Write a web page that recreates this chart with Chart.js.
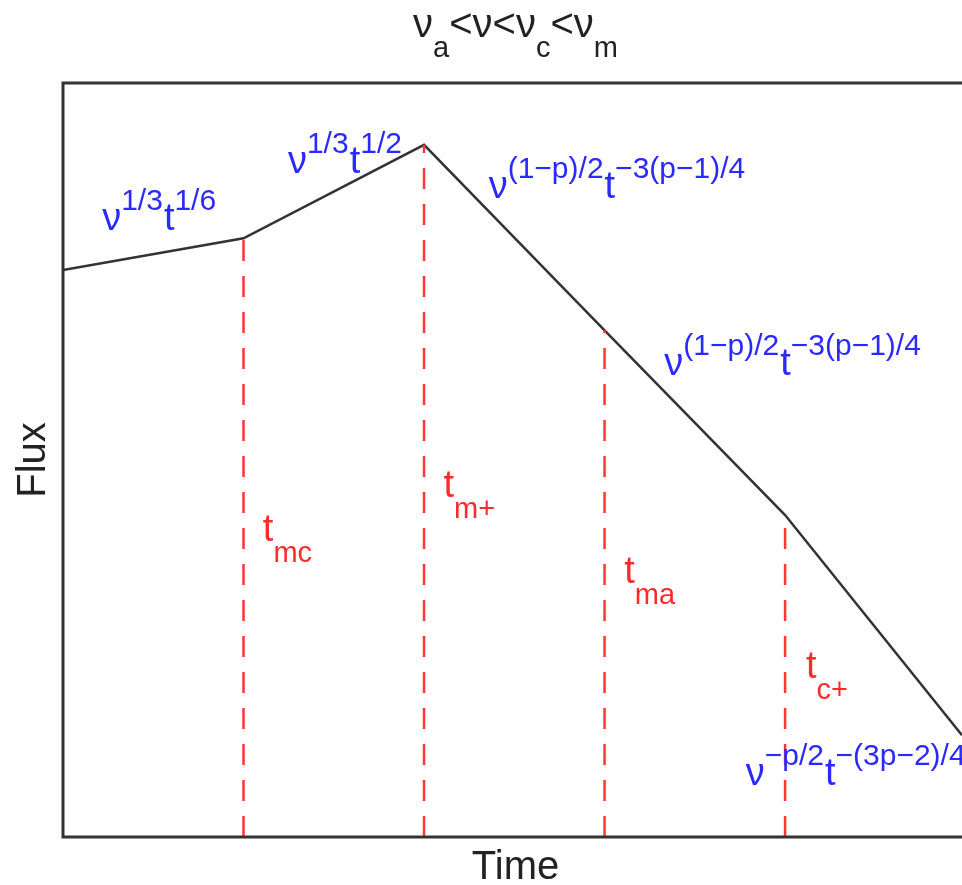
<!DOCTYPE html>
<html>
<head>
<meta charset="utf-8">
<script src="https://cdn.jsdelivr.net/npm/chart.js@4"></script>
<style>
  html, body { margin: 0; padding: 0; background: #fff; }
  #wrap { width: 962px; height: 885px; }
</style>
</head>
<body>
<div id="wrap"><canvas id="chart" width="962" height="885"></canvas></div>
<script>
// broken power-law light curve (arbitrary log units)
const timePoints = [0, 1, 2, 3, 4, 4.98];
const fluxPoints = [7.52, 7.94, 9.18, 6.72, 4.27, 1.35];

// break times (index into the curve above) and their names
const breakIndex = [1, 2, 3, 4];
const breakNames = ["mc", "m+", "ma", "c+"];

// segment slopes, written as [nu exponent, t exponent]
const slopeLabels = [
    ["1/3", "1/6"],
    ["1/3", "1/2"],
    ["(1\u2212p)/2", "\u22123(p\u22121)/4"],
    ["(1\u2212p)/2", "\u22123(p\u22121)/4"],
    ["\u2212p/2", "\u2212(3p\u22122)/4"],
];
// where each slope label sits (data coords of its baseline start)
const slopeLabelAt = [[0.217, 8.05], [1.246, 8.81], [2.358, 8.47], [3.331, 6.13], [3.782, 0.69]];
const breakLabelAt = [[1.107, 3.93], [2.108, 4.51], [3.109, 3.37], [4.116, 2.11]];

const FONT = "'Liberation Sans', Arial, Helvetica, sans-serif";
const BLUE = "#2a2aff";
const RED = "#ff2a2a";

function drawRich(ctx, segs, x, y, opts) {
    for (const [text, kind] of segs) {
        const size = kind === "base" ? opts.base : opts.small;
        const dy = kind === "sup" ? -opts.shift : kind === "sub" ? opts.shift : 0;
        ctx.font = `${size}px ${FONT}`;
        ctx.fillText(text, x, y + dy);
        x += ctx.measureText(text).width + (kind === "base" ? 0 : (opts.gap || 0));
    }
    return x;
}

function richWidth(ctx, segs, opts) {
    let w = 0;
    for (const [text, kind] of segs) {
        ctx.font = `${kind === "base" ? opts.base : opts.small}px ${FONT}`;
        w += ctx.measureText(text).width;
    }
    return w;
}

const decorations = {
    id: "decorations",
    afterDatasetsDraw(chart) {
        const { ctx, chartArea: a, scales } = chart;
        const sx = scales.x, sy = scales.y;
        ctx.save();
        ctx.textAlign = "left";
        ctx.textBaseline = "alphabetic";

        // plot frame (right edge runs off the page)
        ctx.strokeStyle = "#333";
        ctx.lineWidth = 3;
        ctx.beginPath();
        ctx.moveTo(a.right + 5, a.top);
        ctx.lineTo(a.left, a.top);
        ctx.lineTo(a.left, a.bottom);
        ctx.lineTo(a.right + 5, a.bottom);
        ctx.stroke();

        // slope labels
        ctx.fillStyle = BLUE;
        slopeLabels.forEach(([nuExp, tExp], i) => {
            const [dx, dy] = slopeLabelAt[i];
            drawRich(ctx, [["\u03bd", "base"], [nuExp, "sup"], ["t", "base"], [tExp, "sup"]],
                sx.getPixelForValue(dx), sy.getPixelForValue(dy),
                { base: 38, small: 30, shift: 20, gap: 1 });
        });

        // break time labels
        ctx.fillStyle = RED;
        breakNames.forEach((name, i) => {
            const [dx, dy] = breakLabelAt[i];
            drawRich(ctx, [["t", "base"], [name, "sub"]],
                sx.getPixelForValue(dx), sy.getPixelForValue(dy),
                { base: 38, small: 29, shift: 21 });
        });

        // title
        ctx.fillStyle = "#222";
        const titleSegs = [["\u03bd", "base"], ["a", "sub"], ["<\u03bd<\u03bd", "base"], ["c", "sub"],
            ["<\u03bd", "base"], ["m", "sub"]];
        const tOpts = { base: 40, small: 29, shift: 20 };
        const tw = richWidth(ctx, titleSegs, tOpts);
        drawRich(ctx, titleSegs, (a.left + a.right) / 2 + 3 - tw / 2, a.top - 46, tOpts);

        // axis titles
        ctx.font = `40px ${FONT}`;
        ctx.textAlign = "center";
        ctx.fillText("Time", (a.left + a.right) / 2 + 3, a.bottom + 42);
        ctx.translate(a.left - 18, (a.top + a.bottom) / 2);
        ctx.rotate(-Math.PI / 2);
        ctx.fillText("Flux", 0, 0);
        ctx.restore();
    }
};

const curve = timePoints.map((t, i) => ({ x: t, y: fluxPoints[i] }));

const breakSets = breakIndex.map(i => ({
    data: [{ x: timePoints[i], y: 0 }, { x: timePoints[i], y: fluxPoints[i] }],
    borderColor: "#ff3636",
    borderWidth: 2.5,
    borderDash: [21, 15],
    pointRadius: 0,
}));

new Chart(document.getElementById("chart"), {
    type: "line",
    data: {
        datasets: [
            ...breakSets,
            {
                data: curve,
                borderColor: "#333",
                borderWidth: 2.5,
                pointRadius: 0,
                tension: 0,
            },
        ]
    },
    options: {
        responsive: false,
        animation: false,
        layout: { padding: { left: 63, top: 83, right: 0, bottom: 48 } },
        plugins: {
            legend: { display: false },
            tooltip: { enabled: false },
        },
        scales: {
            x: { type: "linear", min: 0, max: 4.98, display: false },
            y: { type: "linear", min: 0, max: 10, display: false },
        },
    },
    plugins: [decorations],
});
</script>
</body>
</html>
